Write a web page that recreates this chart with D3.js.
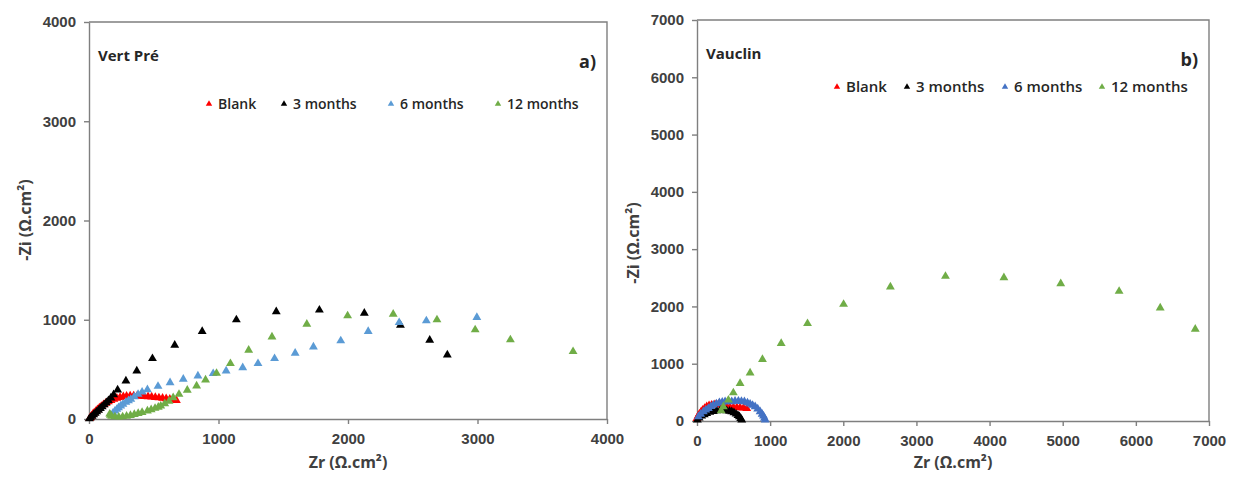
<!DOCTYPE html>
<html>
<head>
<meta charset="utf-8">
<script src="https://cdn.jsdelivr.net/npm/d3@7"></script>
<style>
  body { margin: 0; background: #fff; }
  svg { display: block; font-family: "Open Sans", sans-serif; }
  .tick text { font-weight: 700; fill: #404040; }
</style>
</head>
<body>
<svg id="contenedor"></svg>
<script>
// series de Nyquist, pares [Zr, -Zi] en ohm.cm2

// panel a) Vert Pré
let vpBlank = [[5,5],[12,18],[20,32],[30,48],[40,62],[52,78],[65,95],[80,112],[95,128],[112,145],[130,160],[150,175],[170,188],[192,200],[215,210],[240,218],[265,225],[290,230],[318,233],[345,234],[372,233],[400,231],[428,228],[456,225],[484,222],[512,218],[540,214],[568,210],[596,205],[624,200],[650,194],[675,188]];
let vp3m = [[2,2],[12,14],[24,28],[36,43],[48,58],[60,73],[74,90],[88,107],[102,125],[118,145],[134,165],[150,186],[169,212],[190,245],[221,293],[285,384],[369,485],[490,609],[662,744],[874,882],[1138,1000],[1446,1081],[1779,1098],[2126,1067],[2405,946],[2631,795],[2767,646]];
let vp6m = [[185,60],[200,80],[215,98],[228,115],[245,132],[262,150],[285,170],[305,185],[323,199],[350,225],[379,249],[410,272],[451,296],[533,330],[626,367],[728,401],[841,434],[959,458],[1059,485],[1187,518],[1305,559],[1433,609],[1592,664],[1733,727],[1944,788],[2156,882],[2395,972],[2605,990],[2995,1023]];
let vp12m = [[160,50],[165,38],[175,28],[200,22],[230,20],[260,22],[290,28],[320,36],[350,47],[380,56],[410,66],[451,81],[480,95],[510,108],[535,120],[554,131],[585,155],[618,180],[650,215],[695,249],[759,290],[831,333],[900,394],[985,461],[1092,559],[1233,694],[1413,828],[1682,956],[1997,1040],[2349,1057],[2687,1000],[2982,899],[3254,798],[3738,680]];

// panel b) Vauclin
let vaBlank = [[0,46],[15,85],[32,122],[55,160],[78,192],[105,222],[133,250],[165,268],[201,279],[245,288],[292,290],[340,275],[380,258],[406,250],[450,244],[498,238],[545,235],[589,232],[635,226],[680,221]];
let va3m = [[5,20],[30,55],[64,87],[100,112],[133,134],[175,153],[224,169],[270,180],[315,186],[360,184],[406,180],[445,172],[475,163],[505,145],[534,122],[560,98],[580,75],[598,45],[612,17]];
let va6m = [[18,75],[50,120],[87,163],[120,195],[155,221],[190,252],[224,279],[265,300],[306,319],[345,330],[384,337],[430,340],[475,337],[520,345],[566,348],[608,342],[648,337],[690,318],[726,296],[760,275],[795,250],[830,210],[863,163],[890,120],[909,87],[922,50],[932,17]];
let va12m = [[330,180],[360,249],[429,366],[497,493],[589,657],[726,841],[895,1075],[1151,1354],[1511,1702],[2004,2038],[2644,2340],[3397,2526],[4196,2503],[4973,2399],[5771,2265],[6333,1974],[6812,1603]];

// nombres de series y marcas de ejes
let nombresSeries = ["Blank", "3 months", "6 months", "12 months"];
let ticksIzq = [0, 1000, 2000, 3000, 4000];
let ticksDer = [0, 1000, 2000, 3000, 4000, 5000, 6000, 7000];

// configuracion del contenedor y de cada panel
function getConfig() {
  let width = 1239;
  let height = 483;
  let container = d3.select("#contenedor").attr("width", width).attr("height", height);

  let paneles = [
    {
      titulo: "Vert Pré", letra: "a)",
      series: [vpBlank, vp3m, vp6m, vp12m],
      colores: ["#ff0000", "#000000", "#5b9bd5", "#70ad47"],
      ticks: ticksIzq, max: 4000,
      left: 89, right: 607, top: 22, bottom: 419,
      leyendaX: [209, 284, 391, 498], leyendaY: 104, fuenteLeyenda: 14,
      yTituloY: 220
    },
    {
      titulo: "Vauclin", letra: "b)",
      series: [vaBlank, va3m, va6m, va12m],
      colores: ["#ff0000", "#000000", "#4472c4", "#70ad47"],
      ticks: ticksDer, max: 7000,
      left: 697, right: 1209, top: 20, bottom: 421,
      leyendaX: [837, 907, 1005, 1102], leyendaY: 87, fuenteLeyenda: 15,
      yTituloY: 243
    }
  ];
  return { width, height, container, paneles };
}

// escalas de un panel
function getEscalas(p) {
  let xScale = d3.scaleLinear().domain([0, p.max]).range([p.left, p.right]);
  let yScale = d3.scaleLinear().domain([0, p.max]).range([p.bottom, p.top]);
  return { xScale, yScale };
}

// ejes y marco
function dibujarEjes(container, p, escalas) {
  let { xScale, yScale } = escalas;
  let g = container.append("g");
  let formato = d3.format("d");

  let ejeX = d3.axisBottom(xScale).tickValues(p.ticks).tickFormat(formato)
    .tickSize(5).tickSizeOuter(0).tickPadding(9);
  let ejeY = d3.axisLeft(yScale).tickValues(p.ticks).tickFormat(formato)
    .tickSize(5).tickSizeOuter(0).tickPadding(8);

  g.append("g").attr("transform", `translate(0,${p.bottom})`).call(ejeX);
  g.append("g").attr("transform", `translate(${p.left},0)`).call(ejeY);

  g.selectAll(".domain, .tick line").attr("stroke", "#7f7f7f").attr("stroke-width", 1.4);
  g.selectAll(".tick text").attr("font-size", "15px");

  // marco superior y derecho
  g.append("path")
    .attr("d", `M${p.left},${p.top}H${p.right}V${p.bottom}`)
    .attr("fill", "none")
    .attr("stroke", "#7f7f7f")
    .attr("stroke-width", 1.4);

  // titulos de ejes
  g.append("text")
    .attr("x", (p.left + p.right) / 2)
    .attr("y", 468)
    .attr("text-anchor", "middle")
    .attr("font-size", "16px")
    .attr("font-weight", 700)
    .attr("fill", "#404040")
    .text("Zr (Ω.cm²)");

  g.append("text")
    .attr("transform", `translate(${p.left - 58},${p.yTituloY}) rotate(-90)`)
    .attr("text-anchor", "middle")
    .attr("font-size", "16px")
    .attr("font-weight", 700)
    .attr("fill", "#404040")
    .text("-Zi (Ω.cm²)");

  // nombre del sitio y letra del panel
  g.append("text")
    .attr("x", p.left + 9)
    .attr("y", p.top + 39)
    .attr("font-size", "15px")
    .attr("font-weight", 700)
    .attr("fill", "#262626")
    .text(p.titulo);

  g.append("text")
    .attr("x", p.right - 11)
    .attr("y", p.top + 46)
    .attr("text-anchor", "end")
    .attr("font-size", "18px")
    .attr("font-weight", 700)
    .attr("fill", "#262626")
    .text(p.letra);
}

// puntos triangulares
function dibujarSeries(container, p, escalas) {
  let { xScale, yScale } = escalas;
  let tri = d3.symbol().type(d3.symbolTriangle).size(34);

  p.series.forEach((serie, i) => {
    container.append("g")
      .selectAll("path")
      .data(serie)
      .enter()
      .append("path")
      .attr("d", tri)
      .attr("transform", (d) => `translate(${xScale(d[0])},${yScale(d[1])})`)
      .attr("fill", p.colores[i]);
  });
}

// leyenda horizontal
function dibujarLeyenda(container, p) {
  let tri = d3.symbol().type(d3.symbolTriangle).size(18);
  nombresSeries.forEach((nombre, i) => {
    let x = p.leyendaX[i];
    container.append("path")
      .attr("d", tri)
      .attr("transform", `translate(${x},${p.leyendaY})`)
      .attr("fill", p.colores[i]);
    container.append("text")
      .attr("x", x + 9)
      .attr("y", p.leyendaY + 5)
      .attr("font-size", p.fuenteLeyenda + "px")
      .attr("font-weight", 600)
      .attr("fill", "#262626")
      .text(nombre);
  });
}

function dibujarChart() {
  let config = getConfig();
  config.container.append("rect")
    .attr("width", config.width).attr("height", config.height).attr("fill", "#fff");
  config.paneles.forEach((p) => {
    let escalas = getEscalas(p);
    dibujarEjes(config.container, p, escalas);
    dibujarSeries(config.container, p, escalas);
    dibujarLeyenda(config.container, p);
  });
}

dibujarChart();
</script>
</body>
</html>
